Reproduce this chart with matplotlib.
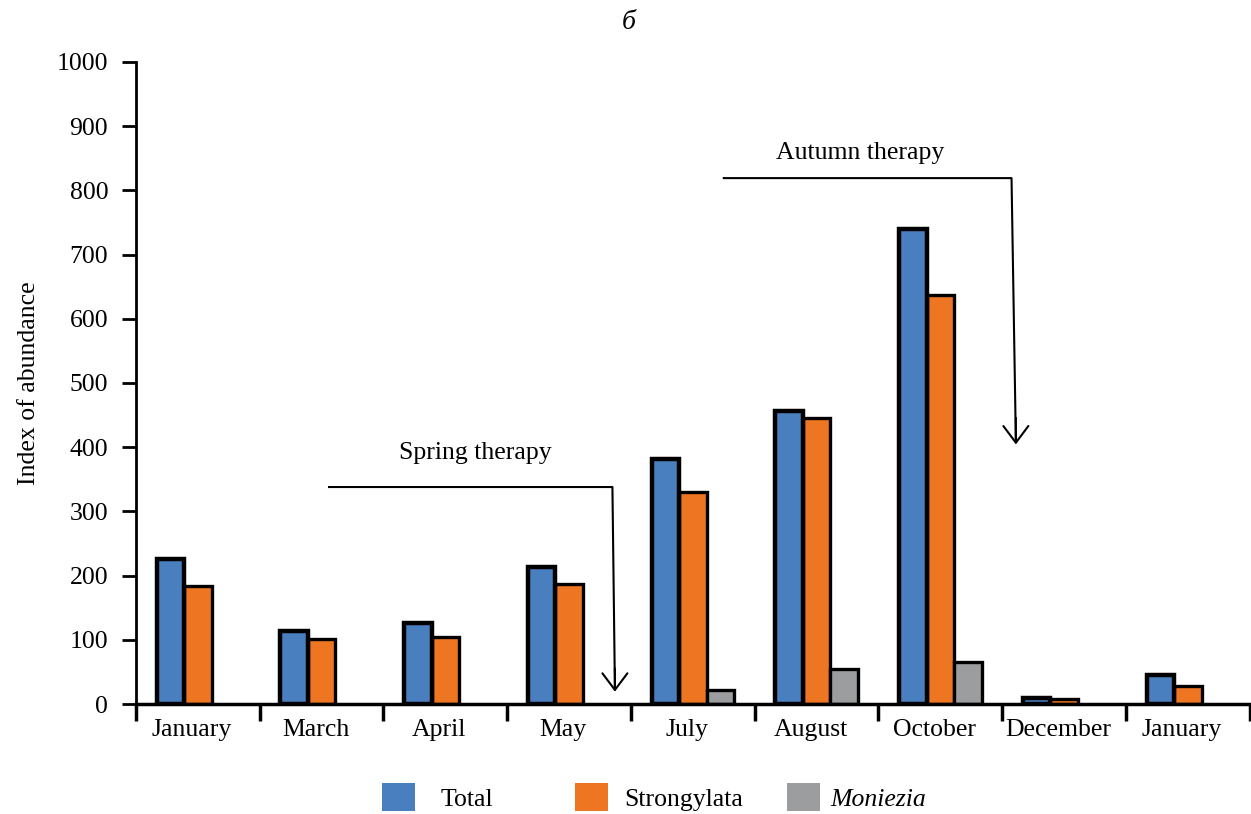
import matplotlib
matplotlib.use("Agg")
import matplotlib.pyplot as plt
import matplotlib.transforms as mtransforms
import numpy as np

months = ["January", "March", "April", "May", "July", "August", "October", "December", "January"]
total = [226, 114, 127, 214, 381, 456, 740, 10, 45]
strongylata = [184, 101, 105, 187, 330, 445, 637, 8, 28]
moniezia = [0, 0, 0, 0, 22, 55, 65, 0, 0]

plt.rcParams["font.family"] = ["Liberation Serif", "DejaVu Serif"]
fs = 18.5

fig = plt.figure(figsize=(12.51, 8.14), dpi=100)
ax = fig.add_axes([0.1087, 0.135, 0.8903, 0.789])

x = np.arange(len(months))
w = 0.222
b1 = ax.bar(x - w, total, w, color="#4a7fbf", edgecolor="black", linewidth=3.2, zorder=3)
b2 = ax.bar(x, strongylata, w, color="#ee7521", edgecolor="black", linewidth=2.4, zorder=2)
mon = np.array(moniezia)
mask = mon > 0
b3 = ax.bar(x[mask] + w, mon[mask], w, color="#9b9d9e", edgecolor="black", linewidth=2.4, zorder=2)

ax.set_xlim(-0.5, 8.5)
ax.set_ylim(0, 1000)
ax.set_yticks(np.arange(0, 1001, 100))
ax.tick_params(axis="y", labelsize=fs, width=2, length=10, direction="out", pad=10)
ax.set_xticks(x)
ax.set_xticklabels(months, fontsize=fs)
ax.tick_params(axis="x", which="major", length=0, pad=11)
ax.set_xticks(np.arange(-0.5, 8.6, 1), minor=True)
ax.tick_params(axis="x", which="minor", length=12, width=2.5, direction="out")
# labels in the original sit slightly left of the group centres
shift = mtransforms.ScaledTranslation(-6 / 100, 0, fig.dpi_scale_trans)
for lbl in ax.get_xticklabels():
    lbl.set_transform(lbl.get_transform() + shift)
for side in ["top", "right"]:
    ax.spines[side].set_visible(False)
ax.spines["left"].set_linewidth(2)
ax.spines["bottom"].set_linewidth(2.5)
ax.set_ylabel("Index of abundance", fontsize=fs, labelpad=12)

arrow = dict(arrowstyle="->,head_length=1.2,head_width=0.9", color="black", lw=1.5)

# spring therapy
ax.plot([1.06, 3.35, 3.37], [338, 338, 25], color="black", linewidth=1.5, zorder=4)
ax.annotate("", xy=(3.37, 15), xytext=(3.37, 60), arrowprops=arrow)
ax.text(2.245, 391, "Spring therapy", ha="center", va="center", fontsize=fs)

# autumn therapy
ax.plot([4.25, 6.575, 6.61], [819, 819, 410], color="black", linewidth=1.5, zorder=4)
ax.annotate("", xy=(6.61, 400), xytext=(6.61, 450), arrowprops=arrow)
ax.text(5.355, 858, "Autumn therapy", ha="center", va="center", fontsize=fs)

fig.text(0.503, 0.972, "б", ha="center", va="center", fontsize=20, style="italic")

# legend entries placed one by one to keep the original uneven spacing
entries = [(b1, "Total", 382, 1.0, "normal"),
           (b2, "Strongylata", 575, 0.65, "normal"),
           (b3, "Moniezia", 787, 0.4, "italic")]
for handle, label, px, pad, style in entries:
    leg = fig.legend([handle], [label], loc="center left",
                     bbox_to_anchor=(px / 1251, 0.021), frameon=False, fontsize=fs,
                     handlelength=1.28, handleheight=1.28, handletextpad=pad,
                     borderpad=0, borderaxespad=0)
    for patch in leg.get_patches():
        patch.set_edgecolor("none")
    leg.get_texts()[0].set_style(style)

fig.savefig("out.png", dpi=100)
